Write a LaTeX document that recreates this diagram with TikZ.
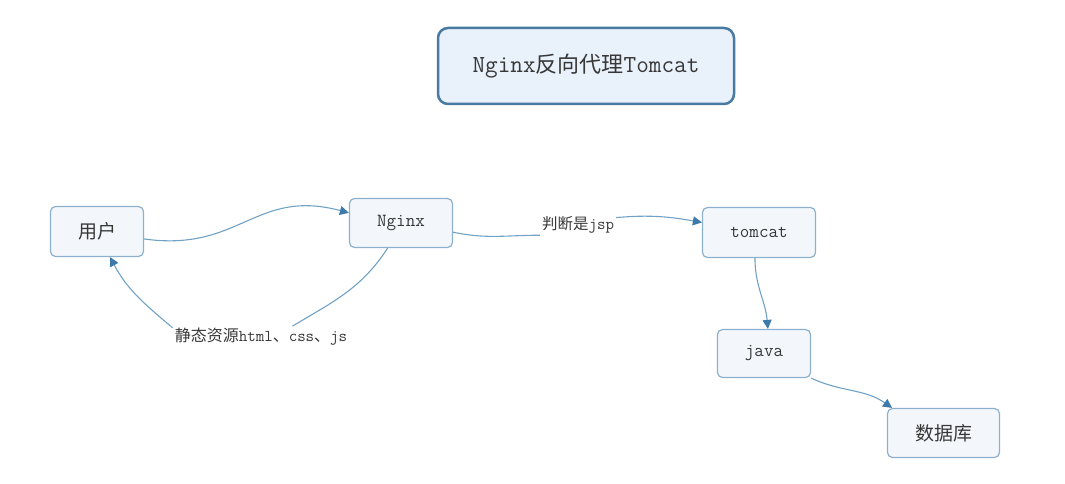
\documentclass[tikz,border=0pt]{standalone}
\usepackage{fontspec}
\newfontfamily\cjk{Noto Sans CJK SC}
\usetikzlibrary{arrows.meta}
\definecolor{boxline}{RGB}{140,176,205}
\definecolor{boxfill}{RGB}{243,247,252}
\definecolor{titleline}{RGB}{72,122,162}
\definecolor{titlefill}{RGB}{233,242,251}
\definecolor{flowline}{RGB}{112,162,198}
\definecolor{flowtip}{RGB}{60,122,170}
\definecolor{txt}{RGB}{55,55,55}
\begin{document}
\begin{tikzpicture}[x=1pt,y=1pt,
  every node/.style={text=txt,font=\ttfamily\fontsize{18.5}{20}\selectfont},
  box/.style={draw=boxline,fill=boxfill,line width=1.2pt,rounded corners=5pt,inner sep=0pt},
  zh/.style={font=\cjk\fontsize{19}{21}\selectfont},
  note/.style={inner sep=2pt,font=\ttfamily\fontsize{16.5}{18}\selectfont},
  link/.style={draw=flowline,line width=1.1pt},
  flow/.style={link,-{Triangle[length=9pt,width=9pt,color=flowtip]}}]
\useasboundingbox (0,0) rectangle (1065,483);
\node[draw=titleline,fill=titlefill,line width=2.5pt,rounded corners=10pt,minimum width=296pt,minimum height=76pt,font=\ttfamily\fontsize{24.5}{26}\selectfont] (title) at (586,417) {Nginx{\cjk\fontsize{22}{26}\selectfont 反向代理}Tomcat};
\node[box,zh,minimum width=93pt,minimum height=50pt] (user) at (97,251.5) {用户};
\node[box,minimum width=103pt,minimum height=49pt] (nginx) at (401,260) {Nginx};
\node[box,minimum width=113pt,minimum height=50pt] (tomcat) at (759,250.5) {tomcat};
\node[box,minimum width=93pt,minimum height=48pt] (java) at (764,129.5) {java};
\node[box,zh,minimum width=112pt,minimum height=49pt] (db) at (943.5,50) {数据库};
\node[note] (static) at (261,146) {{\cjk\fontsize{16}{18}\selectfont 静态资源}html{\cjk\fontsize{16}{18}\selectfont 、}css{\cjk\fontsize{16}{18}\selectfont 、}js};
\node[note] (jsp) at (578,258) {{\cjk\fontsize{15.5}{18}\selectfont 判断是}jsp};
\draw[flow] (user.-9) to[out=-8,in=165,looseness=1.2] (nginx.169);
\draw[link] (nginx.-118) to[out=-123,in=31] (static.19);
\draw[flow] (static.174) to[out=140,in=-62] (user.-63);
\draw[link] (nginx.-10) to[out=-12,in=180] (jsp.195);
\draw[flow] (jsp.11) to[out=5,in=170] (tomcat.170);
\draw[flow] (tomcat.-99) to[out=-90,in=95] (java.81);
\draw[flow] (java.south east) to[out=-25,in=145] (db.154);
\end{tikzpicture}
\end{document}
